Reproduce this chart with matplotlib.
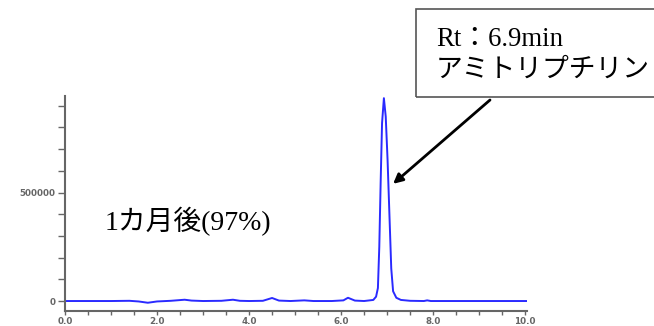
import matplotlib.pyplot as plt
from matplotlib.patches import Rectangle
from matplotlib.ticker import MultipleLocator, FormatStrFormatter

# chromatogram (time in min, intensity)
rt = [0.0, 0.5, 1.0, 1.4, 1.6, 1.8, 2.0, 2.3, 2.6, 2.75, 3.0, 3.4, 3.65, 3.8,
      4.0, 4.3, 4.5, 4.65, 4.9, 5.2, 5.4, 5.8, 6.05, 6.15, 6.3, 6.5, 6.7,
      6.76, 6.8, 6.83, 6.86, 6.89, 6.93, 6.97, 7.01, 7.05, 7.09, 7.13, 7.2,
      7.3, 7.5, 7.8, 7.87, 7.95, 8.5, 9.0, 9.5, 10.04]
intensity = [0, 0, 0, 1000, -2000, -8000, -2000, 1000, 6000, 2000, 0, 1000,
             6000, 1000, 0, 1000, 14000, 2000, 0, 3000, 0, 0, 3000, 15000, 2000,
             0, 5000, 20000, 60000, 250000, 550000, 820000, 935000, 850000,
             650000, 400000, 150000, 45000, 15000, 5000, 1000, 0, 3000, 0, 0,
             0, 0, 0]

xticks_major = [0, 2, 4, 6, 8, 10]
yticks_major = [0, 500000]

sample_label = "1カ月後(97%)"
peak_label = "Rt：6.9min\nアミトリプチリン"
peak_point = (7.13, 540000)

W, H = 654, 326
fig = plt.figure(figsize=(W / 100, H / 100), dpi=100)
ax = fig.add_axes([65 / W, 1 - 311 / H, 462 / W, 215 / H])

ax.plot(rt, intensity, color="#2a2aff", lw=1.4)
ax.set_xlim(0, 10.04)
ax.set_ylim(-46000, 945000)

for s in ["top", "right"]:
    ax.spines[s].set_visible(False)
for s in ["left", "bottom"]:
    ax.spines[s].set_color("#666666")
    ax.spines[s].set_linewidth(1.5)

ax.set_xticks(xticks_major)
ax.xaxis.set_minor_locator(MultipleLocator(0.5))
ax.xaxis.set_major_formatter(FormatStrFormatter("%.1f"))
ax.set_yticks(yticks_major)
ax.yaxis.set_minor_locator(MultipleLocator(100000))
ax.tick_params(which="both", colors="#666666", labelcolor="#666666",
               labelsize=6.3, width=1, length=3)
ax.tick_params(axis="x", which="both", pad=1)
ax.tick_params(axis="y", which="both", length=5, pad=2)
for lab in ax.get_xticklabels() + ax.get_yticklabels():
    lab.set_fontweight("bold")

fonts = ["Liberation Serif", "Noto Sans CJK JP", "DejaVu Sans"]
fig.text(105 / W, 1 - 222 / H, sample_label, family=fonts, fontsize=20,
         va="center", ha="left")

fig.patches.append(Rectangle((416 / W, 1 - 97 / H), 250 / W, 88 / H,
                             transform=fig.transFigure, fill=False,
                             edgecolor="#555555", lw=1.2))
fig.text(436 / W, 1 - 55 / H, peak_label, family=fonts, fontsize=19.3,
         va="center", ha="left", linespacing=1.3)

ax.annotate("", xy=peak_point, xycoords="data",
            xytext=(490 / W, 1 - 100 / H), textcoords="figure fraction",
            arrowprops=dict(arrowstyle="-|>", color="black", lw=2,
                            mutation_scale=14, shrinkA=0, shrinkB=0))

fig.savefig("out.png", dpi=100)
